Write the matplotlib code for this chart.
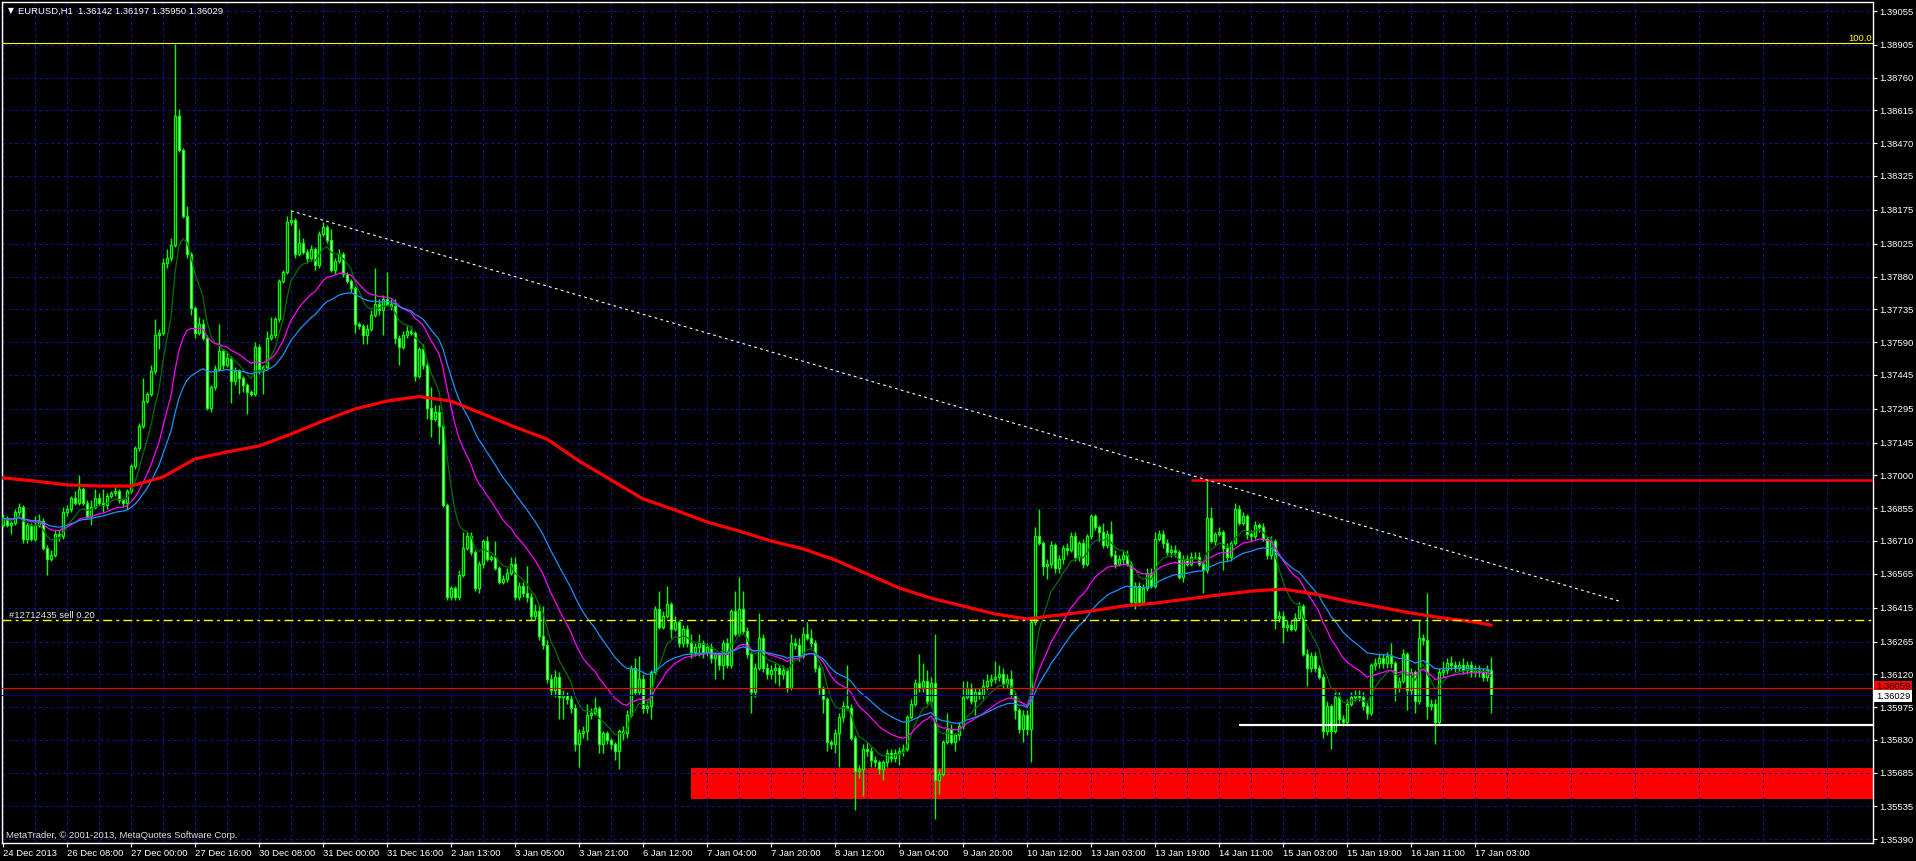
import numpy as np
import pandas as pd
import matplotlib
matplotlib.use("Agg")
import matplotlib.pyplot as plt
from matplotlib.patches import Rectangle
from matplotlib.transforms import blended_transform_factory

plt.rcParams['font.family'] = ['Liberation Sans', 'DejaVu Sans']
plt.rcParams['lines.scale_dashes'] = False

# EURUSD H1, prices in pips above 1.35000
BASE = 1.35
PIP = 0.0001

first_open_pips = 178
close_pips = [
    181, 178, 179, 184, 186, 172, 178, 172, 178, 180, 168, 163, 165, 174, 173, 184,
    185, 190, 188, 194, 188, 182, 186, 190, 188, 187, 191, 192, 193, 189, 188, 193,
    204, 212, 222, 233, 236, 246, 262, 263, 294, 296, 302, 359, 344, 315, 298, 274,
    263, 267, 261, 230, 239, 247, 255, 249, 252, 242, 246, 243, 240, 237, 236, 257,
    247, 248, 261, 262, 269, 286, 290, 312, 313, 298, 303, 299, 296, 300, 293, 307,
    310, 304, 291, 295, 298, 289, 286, 283, 267, 266, 262, 265, 271, 276, 273, 278,
    276, 275, 261, 257, 262, 264, 263, 244, 256, 249, 230, 225, 228, 222, 187, 146,
    150, 146, 156, 168, 173, 166, 150, 161, 171, 163, 164, 159, 153, 154, 157, 161,
    146, 151, 148, 146, 138, 140, 129, 125, 110, 105, 111, 102, 103, 101, 97, 81,
    86, 87, 94, 95, 97, 81, 86, 83, 81, 78, 87, 86, 94, 115, 104, 110,
    97, 98, 113, 141, 133, 138, 143, 132, 135, 126, 132, 126, 122, 124, 126, 122,
    124, 119, 121, 116, 126, 116, 140, 130, 141, 131, 121, 104, 115, 128, 115, 112,
    114, 115, 112, 114, 106, 126, 125, 120, 130, 128, 126, 115, 106, 101, 82, 81,
    86, 93, 98, 97, 84, 69, 70, 79, 78, 74, 73, 70, 73, 77, 75, 77,
    78, 79, 93, 99, 108, 106, 109, 100, 108, 65, 68, 82, 88, 82, 85, 89,
    102, 106, 100, 104, 103, 107, 109, 110, 111, 112, 108, 110, 103, 96, 88, 94,
    88, 135, 173, 170, 160, 161, 169, 159, 163, 168, 167, 173, 164, 170, 161, 173,
    182, 177, 175, 169, 174, 165, 161, 163, 165, 161, 144, 151, 144, 150, 157, 151,
    172, 174, 170, 166, 167, 166, 155, 163, 161, 164, 164, 161, 158, 181, 171, 174,
    175, 168, 164, 170, 185, 179, 182, 174, 173, 178, 177, 172, 165, 171, 137, 138,
    133, 134, 132, 137, 142, 121, 115, 120, 115, 111, 87, 98, 87, 102, 92, 91,
    99, 102, 103, 102, 98, 95, 116, 117, 119, 117, 120, 117, 106, 109, 121, 105,
    113, 100, 128, 127, 98, 99, 91, 113, 114, 117, 116, 115, 116, 114, 116, 113,
    114, 113, 111, 114, 102.9,
]
upper_wick_pips = [
    2, 1, 1, 1, 2, 1, 1, 1, 4, 3, 1, 1, 2, 2, 2, 2,
    2, 1, 3, 6, 1, 1, 3, 4, 2, 6, 1, 1, 2, 1, 1, 1,
    1, 1, 1, 10, 1, 3, 7, 2, 2, 4, 3, 32, 3, 1, 4, 1,
    1, 3, 2, 1, 1, 2, 12, 1, 3, 1, 2, 1, 1, 1, 1, 2,
    1, 1, 3, 8, 1, 1, 1, 3, 4, 1, 6, 2, 1, 2, 1, 1,
    2, 1, 5, 1, 2, 1, 1, 1, 1, 1, 1, 2, 2, 16, 2, 2,
    12, 2, 3, 1, 2, 2, 2, 1, 1, 2, 1, 9, 3, 3, 1, 1,
    1, 1, 2, 7, 2, 2, 1, 1, 1, 2, 1, 7, 1, 2, 2, 3,
    3, 2, 2, 12, 2, 3, 3, 13, 2, 2, 3, 2, 2, 1, 2, 2,
    2, 2, 5, 2, 5, 1, 1, 1, 1, 1, 1, 2, 2, 1, 4, 10,
    2, 2, 1, 1, 8, 2, 8, 1, 3, 1, 2, 2, 4, 2, 4, 1,
    2, 2, 1, 1, 1, 2, 1, 9, 14, 8, 2, 1, 2, 11, 2, 2,
    2, 2, 1, 2, 1, 4, 2, 3, 3, 5, 4, 1, 1, 1, 1, 1,
    2, 2, 2, 18, 2, 1, 2, 2, 3, 2, 2, 1, 1, 2, 2, 2,
    2, 2, 1, 2, 2, 13, 8, 5, 3, 22, 2, 1, 7, 2, 1, 2,
    7, 3, 2, 2, 2, 3, 3, 2, 7, 4, 3, 2, 4, 1, 1, 2,
    2, 1, 4, 12, 1, 2, 2, 1, 2, 1, 2, 2, 2, 1, 2, 1,
    1, 1, 1, 4, 2, 6, 2, 2, 2, 2, 1, 2, 2, 2, 2, 2,
    3, 2, 2, 2, 2, 2, 1, 2, 2, 2, 2, 2, 1, 17, 5, 1,
    2, 1, 2, 1, 3, 2, 2, 1, 2, 2, 1, 2, 1, 2, 1, 2,
    2, 2, 2, 2, 2, 1, 2, 2, 2, 1, 1, 2, 1, 2, 2, 2,
    2, 2, 2, 2, 2, 2, 1, 2, 2, 2, 2, 6, 1, 2, 2, 1,
    2, 1, 8, 2, 21, 2, 2, 2, 4, 2, 3, 2, 2, 3, 2, 2,
    2, 2, 2, 2, 5.5,
]
lower_wick_pips = [
    1, 1, 4, 1, 3, 2, 2, 1, 1, 1, 1, 7, 1, 1, 2, 1,
    2, 1, 1, 1, 1, 1, 4, 1, 1, 3, 2, 1, 1, 1, 2, 3,
    1, 1, 1, 1, 1, 1, 1, 6, 1, 2, 1, 1, 1, 1, 2, 3,
    2, 1, 1, 1, 2, 1, 1, 2, 1, 10, 2, 7, 3, 10, 1, 1,
    2, 11, 1, 1, 1, 1, 1, 1, 1, 2, 1, 1, 2, 1, 2, 1,
    1, 1, 1, 2, 1, 1, 1, 2, 4, 1, 4, 4, 1, 1, 2, 11,
    1, 2, 3, 8, 1, 1, 1, 2, 1, 2, 5, 8, 1, 8, 1, 1,
    1, 1, 1, 1, 1, 1, 1, 2, 2, 1, 1, 1, 1, 1, 1, 1,
    1, 1, 2, 2, 2, 2, 2, 2, 2, 2, 3, 10, 10, 2, 2, 3,
    10, 2, 4, 2, 1, 4, 4, 2, 2, 4, 8, 3, 2, 1, 1, 1,
    2, 2, 6, 1, 1, 1, 1, 4, 1, 2, 2, 2, 3, 2, 4, 3,
    2, 2, 9, 2, 6, 1, 1, 1, 1, 1, 2, 9, 2, 1, 2, 2,
    2, 6, 5, 2, 2, 1, 2, 2, 1, 1, 2, 2, 3, 6, 4, 2,
    4, 15, 2, 1, 1, 17, 3, 12, 2, 3, 2, 2, 5, 2, 2, 2,
    5, 2, 1, 1, 1, 2, 2, 1, 2, 17, 6, 1, 1, 1, 4, 2,
    1, 1, 1, 6, 2, 2, 2, 2, 2, 2, 2, 2, 1, 4, 2, 6,
    3, 15, 1, 1, 4, 6, 2, 2, 2, 2, 2, 1, 2, 2, 2, 1,
    1, 1, 4, 1, 1, 1, 2, 1, 2, 1, 1, 3, 2, 1, 1, 1,
    1, 1, 2, 1, 2, 2, 1, 2, 1, 1, 1, 1, 10, 1, 1, 2,
    1, 10, 2, 2, 1, 1, 1, 2, 2, 1, 2, 1, 2, 2, 5, 2,
    7, 2, 1, 1, 1, 1, 8, 2, 2, 1, 3, 2, 8, 1, 2, 2,
    1, 1, 2, 2, 2, 3, 1, 2, 2, 2, 2, 2, 6, 2, 1, 9,
    2, 5, 1, 2, 6, 2, 10, 1, 2, 2, 2, 2, 2, 2, 2, 2,
    2, 2, 2, 2, 8,
]

# slow (red) moving average
ma_slow_bars = [0, 8, 16, 24, 32, 40, 48, 56, 64, 72, 80, 88, 96, 104, 112, 120,
                128, 136, 144, 152, 160, 168, 176, 184, 192, 200, 208, 216, 224,
                232, 240, 248, 256, 264, 272, 280, 288, 296, 304, 312, 320, 328,
                336, 344, 352, 360, 368, 372]
ma_slow_pips = [198.9, 197.5, 195.8, 195.3, 195.3, 199.3, 207.3, 210.4, 213.0,
                218.3, 224.1, 229.4, 232.9, 234.9, 232.9, 227.2, 221.4, 216.1,
                206.4, 198.0, 189.6, 184.7, 179.4, 175.4, 171.0, 167.5, 162.6,
                156.4, 150.2, 145.7, 142.2, 138.7, 136.5, 138.2, 140.0, 142.2,
                143.5, 145.3, 147.1, 148.8, 149.7, 147.5, 144.4, 141.8, 139.1,
                136.9, 135.1, 133.8]

time_labels = ["24 Dec 2013", "26 Dec 08:00", "27 Dec 00:00", "27 Dec 16:00",
               "30 Dec 08:00", "31 Dec 00:00", "31 Dec 16:00", "2 Jan 13:00",
               "3 Jan 05:00", "3 Jan 21:00", "6 Jan 12:00", "7 Jan 04:00",
               "7 Jan 20:00", "8 Jan 12:00", "9 Jan 04:00", "9 Jan 20:00",
               "10 Jan 12:00", "13 Jan 03:00", "13 Jan 19:00", "14 Jan 11:00",
               "15 Jan 03:00", "15 Jan 19:00", "16 Jan 11:00", "17 Jan 03:00"]
price_labels = [1.39055, 1.38905, 1.38760, 1.38615, 1.38470, 1.38325, 1.38175,
                1.38025, 1.37880, 1.37735, 1.37590, 1.37445, 1.37295, 1.37145,
                1.37000, 1.36855, 1.36710, 1.36565, 1.36415, 1.36265, 1.36120,
                1.35975, 1.35830, 1.35685, 1.35535, 1.35390]

fib_level = 1.38912
resistance = 1.36980
resistance_from = 297
sell_price = 1.36359
ask_line = 1.36059
bid_line = 1.36029
support = 1.35896
support_from = 309
zone_low, zone_high, zone_from = 1.35569, 1.35706, 172
trend_bars = [72, 404]
trend_prices = [1.38171, 1.36444]

closes = BASE + np.array(close_pips) * PIP
opens = np.concatenate([[BASE + first_open_pips * PIP], closes[:-1]])
highs = np.maximum(opens, closes) + np.array(upper_wick_pips) * PIP
lows = np.minimum(opens, closes) - np.array(lower_wick_pips) * PIP
bars = np.arange(len(closes))
s = pd.Series(closes)
ema_fast = s.ewm(span=8, adjust=False).mean()
ema_mid = s.ewm(span=21, adjust=False).mean()
ema_slow = s.ewm(span=34, adjust=False).mean()

W, H = 1916, 861
fig = plt.figure(figsize=(W / 100, H / 100), dpi=100, facecolor='black')
ax = fig.add_axes([2 / W, 18 / H, 1871 / W, 841 / H])
ax.set_facecolor('black')
ax.set_xlim(-0.25, 467.5)
ax.set_ylim(1.353734, 1.390949)

grid_col = '#14148c'
ax.set_axisbelow(True)
ax.set_xticks(np.arange(0, 369, 16))
ax.set_xticks(np.arange(8, 468, 16), minor=True)
ax.set_xticklabels(time_labels)
ax.set_yticks(price_labels)
ax.set_yticklabels([f"{p:.5f}" for p in price_labels])
ax.grid(True, which='both', axis='x', color=grid_col, lw=0.72, ls=(0, (2.2, 2.2)))
ax.grid(True, which='major', axis='y', color=grid_col, lw=0.72, ls=(0, (2.2, 2.2)))
ax.yaxis.tick_right()
ax.tick_params(axis='both', which='major', colors='white', labelsize=6.8,
               length=3, width=0.8, pad=1.5)
ax.tick_params(axis='x', which='minor', length=0)
for lab in ax.get_xticklabels():
    lab.set_ha('left')
for sp in ax.spines.values():
    sp.set_color('white')
    sp.set_linewidth(1)

# red zone (background object)
ax.add_patch(Rectangle((zone_from, zone_low), 500, zone_high - zone_low,
                       facecolor='#ff0000', edgecolor='none', zorder=0.4))

# candles
ax.vlines(bars, lows, highs, color='#00ff00', lw=1.0, zorder=3)
bull = closes >= opens
ax.bar(bars, closes - opens, bottom=opens, width=0.7,
       color=np.where(bull, 'black', 'white'), edgecolor='#00ff00',
       linewidth=0.95, zorder=4)

# moving averages
ax.plot(bars, ema_fast, color='#007000', lw=0.9, zorder=5)
ax.plot(bars, ema_mid, color='#ff00ff', lw=0.9, zorder=5)
ax.plot(bars, ema_slow, color='#1e90ff', lw=0.9, zorder=5)
ax.plot(ma_slow_bars, BASE + np.array(ma_slow_pips) * PIP, color='#ff0000',
        lw=2.3, zorder=5)

# objects
ax.axhline(fib_level, color='#ffff00', lw=0.8, zorder=6)
ax.hlines(resistance, resistance_from, 500, color='#ff0000', lw=1.8, zorder=6)
ax.axhline(ask_line, color='#ff0000', lw=0.8, zorder=6)
ax.axhline(bid_line, color='#000090', lw=0.8, zorder=6)
ax.hlines(support, support_from, 500, color='white', lw=1.6, zorder=6)
ax.axhline(sell_price, color='#ffff00', lw=1.0, ls=(0, (6.5, 3, 2, 3)), zorder=6)
ax.plot(trend_bars, trend_prices, color='white', lw=0.8, ls=(0, (2, 2.4)), zorder=6)

bt = blended_transform_factory(ax.transAxes, ax.transData)
ax.text(0.9995, fib_level + 0.00003, "100.0", transform=bt, ha='right', va='bottom',
        color='#ffff00', fontsize=6.8, zorder=7)
ax.text(7 / 1871, sell_price + 0.00003, "#12712435 sell 0.20", transform=bt,
        ha='left', va='bottom', color='#e8e8e8', fontsize=6.8, zorder=7)
ax.text(1.0015, ask_line + 0.00005, f"{ask_line:.5f}", transform=bt, ha='left',
        va='center', color='black', fontsize=6.8, clip_on=False,
        bbox=dict(boxstyle='square,pad=0.18', fc='#ff0000', ec='none'))
ax.text(1.0015, bid_line - 0.00006, f"{bid_line:.5f}", transform=bt, ha='left',
        va='center', color='black', fontsize=6.8, clip_on=False,
        bbox=dict(boxstyle='square,pad=0.18', fc='white', ec='none'))

fig.text(8 / W, 1 - 11 / H, "\u25bc", color='white', fontsize=5.5,
         family='DejaVu Sans', ha='left', va='center')
fig.text(18 / W, 1 - 11 / H, "EURUSD,H1  1.36142 1.36197 1.35950 1.36029",
         color='white', fontsize=6.8, ha='left', va='center')
fig.text(6 / W, 1 - 836 / H, "MetaTrader, \u00a9 2001-2013, MetaQuotes Software Corp.",
         color='#e0e0e0', fontsize=6.8, ha='left', va='center')

fig.savefig("out.png", dpi=100, facecolor='black')
